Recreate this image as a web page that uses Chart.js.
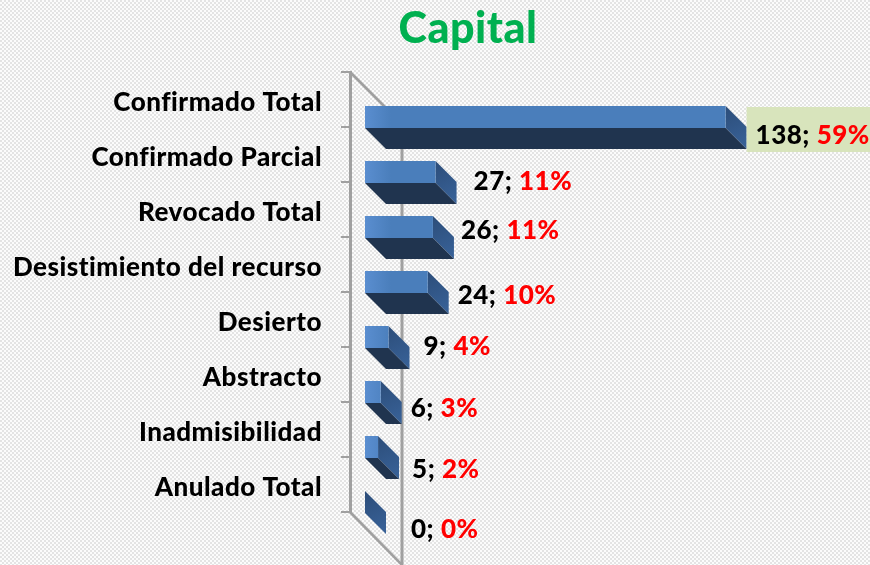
<!DOCTYPE html>
<html><head><meta charset="utf-8">
<style>
html,body{margin:0;padding:0;width:870px;height:565px;overflow:hidden;background-color:#fcfcfc;
background-image:radial-gradient(circle at 1px 1px,#e4e4e4 0.8px,transparent 1.1px),radial-gradient(circle at 3px 3px,#e4e4e4 0.8px,transparent 1.1px);background-size:4px 4px;}
#w{position:absolute;left:0;top:0;width:870px;height:565px}
</style>
<script src="https://cdn.jsdelivr.net/npm/chart.js@4"></script>
</head><body><div id="w"><canvas id="c"></canvas></div>
<script>
const categories=["Confirmado Total","Confirmado Parcial","Revocado Total","Desistimiento del recurso","Desierto","Abstracto","Inadmisibilidad","Anulado Total"];
const counts=[138,27,26,24,9,6,5,0];
const percents=[59,11,11,10,4,3,2,0];
const labelShiftX=[30,38,28,30,35,30,34,46];
const labelShiftY=[19,10,4,14,10,17,23,28];
const FRONT_DX=15,FRONT_DY=17.5,DEPTH=21,WALL=52;
const FONT='"Lato","Liberation Sans",sans-serif';
const threeD={
  id:'threeD',
  beforeLayout(chart){chart.ctx.letterSpacing='0.5px';},
  afterLayout(chart){
    const t=chart.titleBlock;
    if(t){t.left=66;t.right=870;}
  },
  beforeDraw(chart){chart.ctx.letterSpacing='0.5px';},
  beforeDatasetsDraw(chart){
    const {ctx,chartArea:a}=chart;
    ctx.save();
    ctx.strokeStyle='#a0a0a0';ctx.lineWidth=3;
    ctx.beginPath();ctx.moveTo(a.left+WALL,a.top+WALL);ctx.lineTo(a.left+WALL,a.bottom+WALL+1);ctx.stroke();
    ctx.lineWidth=2.5;
    ctx.beginPath();ctx.moveTo(a.left,a.top);ctx.lineTo(a.left+WALL,a.top+WALL);ctx.stroke();
    ctx.beginPath();ctx.moveTo(a.left,a.bottom);ctx.lineTo(a.left+WALL,a.bottom+WALL+1);ctx.stroke();
    ctx.restore();
  },
  beforeDatasetDraw(chart,args){
    const {ctx}=chart;
    ctx.save();
    ctx.translate(FRONT_DX,FRONT_DY);
    for(const el of args.meta.data){
      const p=el.getProps(['x','y','base','height'],true);
      const t=p.y-p.height/2,b=p.y+p.height/2;
      const g=ctx.createLinearGradient(p.x,t,p.x+DEPTH,b+DEPTH);
      g.addColorStop(0,'#2c4d79');g.addColorStop(1,'#39639a');
      ctx.fillStyle=g;
      ctx.beginPath();ctx.moveTo(p.x,t);ctx.lineTo(p.x+DEPTH,t+DEPTH);ctx.lineTo(p.x+DEPTH,b+DEPTH);ctx.lineTo(p.x,b);ctx.closePath();ctx.fill();
      if(p.x>p.base){
        ctx.fillStyle='#20344f';
        ctx.beginPath();ctx.moveTo(p.base,b);ctx.lineTo(p.x,b);ctx.lineTo(p.x+DEPTH,b+DEPTH);ctx.lineTo(p.base+DEPTH,b+DEPTH);ctx.closePath();ctx.fill();
      }
    }
  },
  afterDatasetDraw(chart){chart.ctx.restore();},
  afterDatasetsDraw(chart){
    const {ctx}=chart;
    const el0=chart.getDatasetMeta(0).data;
    ctx.save();
    ctx.font='900 26px '+FONT;ctx.textBaseline='middle';ctx.textAlign='left';
    counts.forEach((v,i)=>{
      const p=el0[i].getProps(['x','y'],true);
      const x=p.x+FRONT_DX+labelShiftX[i],y=p.y+FRONT_DY+labelShiftY[i];
      const a=v+'; ',b=percents[i]+'%';
      const wa=ctx.measureText(a).width,wb=ctx.measureText(b).width;
      if(i===0){ctx.fillStyle='#d8e4bc';ctx.fillRect(x-9,y-29,9+wa+wb+12,45);}
      ctx.fillStyle='#000';ctx.fillText(a,x,y);
      ctx.fillStyle='#ff0000';ctx.fillText(b,x+wa,y);
    });
    ctx.restore();
  }
};
new Chart(document.getElementById('c'),{
  type:'bar',
  data:{labels:categories,datasets:[{data:counts,backgroundColor(c){
      const x0=c.chart.scales.x?c.chart.scales.x.getPixelForValue(0):NaN;
      if(!Number.isFinite(x0))return '#4a7ebb';
      const g=c.chart.ctx.createLinearGradient(x0,0,x0+26,0);
      g.addColorStop(0,'#5a8ed0');g.addColorStop(1,'#4a7ebb');return g;
    },borderWidth:0,barPercentage:0.4,categoryPercentage:1,clip:false}]},
  plugins:[threeD],
  options:{
    indexAxis:'y',responsive:true,maintainAspectRatio:false,animation:false,
    layout:{padding:{top:0,bottom:53,left:0,right:0}},
    plugins:{
      legend:{display:false},tooltip:{enabled:false},
      title:{display:true,text:'Capital',color:'#00b050',font:{family:FONT,size:43,weight:'900'},padding:{top:3,bottom:17.4}}
    },
    scales:{
      x:{display:false,min:0,max:199},
      y:{
        afterFit(s){s.width=350;},
        grid:{drawOnChartArea:false,color:'#a0a0a0',lineWidth:2,tickLength:9},
        border:{color:'#a0a0a0',width:3},
        ticks:{color:'#000',padding:19,labelOffset:3,font:{family:FONT,size:26,weight:'900'},autoSkip:false}
      }
    }
  }
});
</script></body></html>
